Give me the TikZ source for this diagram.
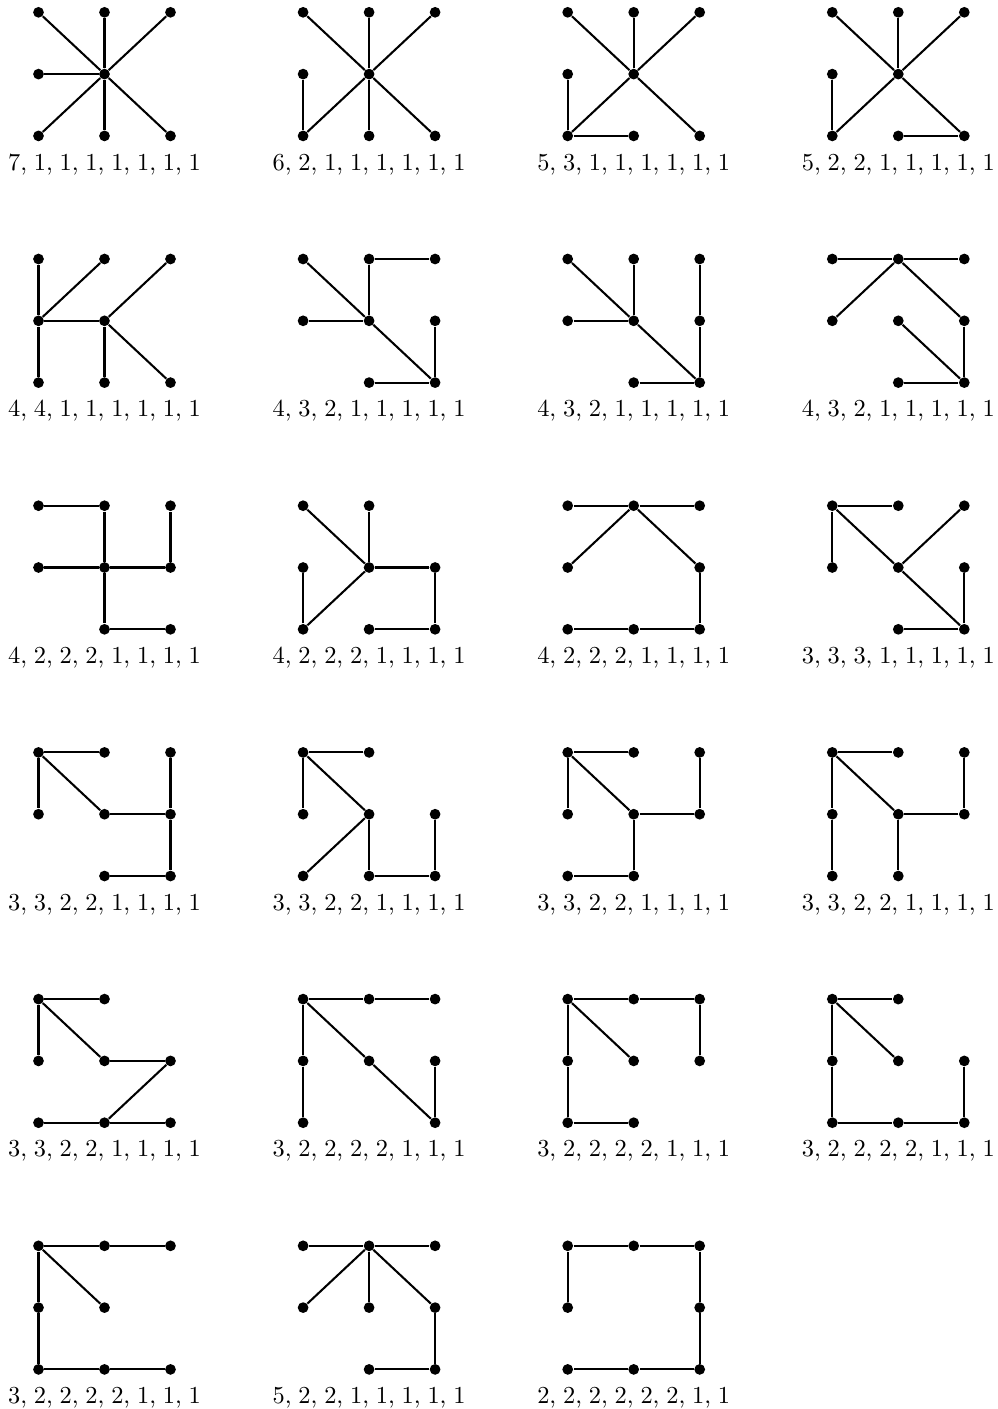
\documentclass[tikz,border=0pt]{standalone}
\usetikzlibrary{calc}
\tikzset{
  dot/.style={circle,fill=black,draw=none,inner sep=0pt,minimum size=4.4pt},
  edge/.style={line width=0.85pt,black},
  lab/.style={anchor=base,inner sep=0pt,font=\fontsize{10}{12}\selectfont}
}
\newcommand\tgraph[6]{%
\begin{scope}[shift={({38.5+264.6*#2},{12.3+246.7*#3})}]
  \foreach \v/\px/\py in {a/0/0,b/1/0,c/2/0,d/0/1,e/1/1,f/2/1,g/0/2,h/1/2,i/2/2}
    \coordinate (p#1\v) at ({66*\px},{61.8*\py});
  \foreach \v in {#4} \node[dot] (g#1\v) at (p#1\v) {};
  \foreach \u/\w in {#5} \draw[edge] (g#1\u) -- (g#1\w);
  \node[lab] (l#1) at (66,157.7) {\spaceskip=2.8pt\relax #6};
\end{scope}}
\begin{document}
\begin{tikzpicture}[x=0.41pt,y=-0.41pt]
\path[use as bounding box] (0,0) rectangle (998,1409);
\tgraph{1}{0}{0}{a,b,c,d,e,g,h,i}{e/a,e/b,e/c,e/d,e/g,e/h,e/i}{7, 1, 1, 1, 1, 1, 1, 1}
\tgraph{2}{1}{0}{a,b,c,d,e,g,h,i}{e/a,e/b,e/c,e/g,e/h,e/i,d/g}{6, 2, 1, 1, 1, 1, 1, 1}
\tgraph{3}{2}{0}{a,b,c,d,e,g,h,i}{e/a,e/b,e/c,e/g,e/i,g/d,g/h}{5, 3, 1, 1, 1, 1, 1, 1}
\tgraph{4}{3}{0}{a,b,c,d,e,g,h,i}{e/a,e/b,e/c,e/g,e/i,g/d,i/h}{5, 2, 2, 1, 1, 1, 1, 1}
\tgraph{5}{0}{1}{a,b,c,d,e,g,h,i}{d/a,d/b,d/e,d/g,e/c,e/h,e/i}{4, 4, 1, 1, 1, 1, 1, 1}
\tgraph{6}{1}{1}{a,b,c,d,e,f,h,i}{e/a,e/b,e/d,e/i,b/c,i/f,i/h}{4, 3, 2, 1, 1, 1, 1, 1}
\tgraph{7}{2}{1}{a,b,c,d,e,f,h,i}{e/a,e/b,e/d,e/i,i/f,f/c,i/h}{4, 3, 2, 1, 1, 1, 1, 1}
\tgraph{8}{3}{1}{a,b,c,d,e,f,h,i}{b/a,b/c,b/d,b/f,f/i,i/e,i/h}{4, 3, 2, 1, 1, 1, 1, 1}
\tgraph{9}{0}{2}{a,b,c,d,e,f,h,i}{a/b,b/e,d/e,e/f,f/c,e/h,h/i}{4, 2, 2, 2, 1, 1, 1, 1}
\tgraph{10}{1}{2}{a,b,d,e,f,g,h,i}{e/a,e/b,e/f,e/g,g/d,f/i,i/h}{4, 2, 2, 2, 1, 1, 1, 1}
\tgraph{11}{2}{2}{a,b,c,d,f,g,h,i}{b/a,b/c,b/d,b/f,f/i,i/h,h/g}{4, 2, 2, 2, 1, 1, 1, 1}
\tgraph{12}{3}{2}{a,b,c,d,e,f,h,i}{a/b,a/d,a/e,e/c,e/i,i/f,i/h}{3, 3, 3, 1, 1, 1, 1, 1}
\tgraph{13}{0}{3}{a,b,c,d,e,f,h,i}{a/b,a/d,a/e,e/f,f/c,f/i,i/h}{3, 3, 2, 2, 1, 1, 1, 1}
\tgraph{14}{1}{3}{a,b,d,e,f,g,h,i}{a/b,a/d,a/e,e/g,e/h,h/i,i/f}{3, 3, 2, 2, 1, 1, 1, 1}
\tgraph{15}{2}{3}{a,b,c,d,e,f,g,h}{a/b,a/d,a/e,e/f,f/c,e/h,h/g}{3, 3, 2, 2, 1, 1, 1, 1}
\tgraph{16}{3}{3}{a,b,c,d,e,f,g,h}{a/b,a/d,a/e,d/g,e/f,f/c,e/h}{3, 3, 2, 2, 1, 1, 1, 1}
\tgraph{17}{0}{4}{a,b,d,e,f,g,h,i}{a/b,a/d,a/e,e/f,f/h,g/h,h/i}{3, 3, 2, 2, 1, 1, 1, 1}
\tgraph{18}{1}{4}{a,b,c,d,e,f,g,i}{a/b,b/c,a/d,d/g,a/e,e/i,i/f}{3, 2, 2, 2, 2, 1, 1, 1}
\tgraph{19}{2}{4}{a,b,c,d,e,f,g,h}{a/b,b/c,c/f,a/d,d/g,g/h,a/e}{3, 2, 2, 2, 2, 1, 1, 1}
\tgraph{20}{3}{4}{a,b,d,e,f,g,h,i}{a/b,a/e,a/d,d/g,g/h,h/i,i/f}{3, 2, 2, 2, 2, 1, 1, 1}
\tgraph{21}{0}{5}{a,b,c,d,e,g,h,i}{a/b,b/c,a/e,a/d,d/g,g/h,h/i}{3, 2, 2, 2, 2, 1, 1, 1}
\tgraph{22}{1}{5}{a,b,c,d,e,f,h,i}{b/a,b/c,b/d,b/e,b/f,f/i,i/h}{5, 2, 2, 1, 1, 1, 1, 1}
\tgraph{23}{2}{5}{a,b,c,d,f,g,h,i}{d/a,a/b,b/c,c/f,f/i,i/h,h/g}{2, 2, 2, 2, 2, 2, 1, 1}
\end{tikzpicture}
\end{document}
